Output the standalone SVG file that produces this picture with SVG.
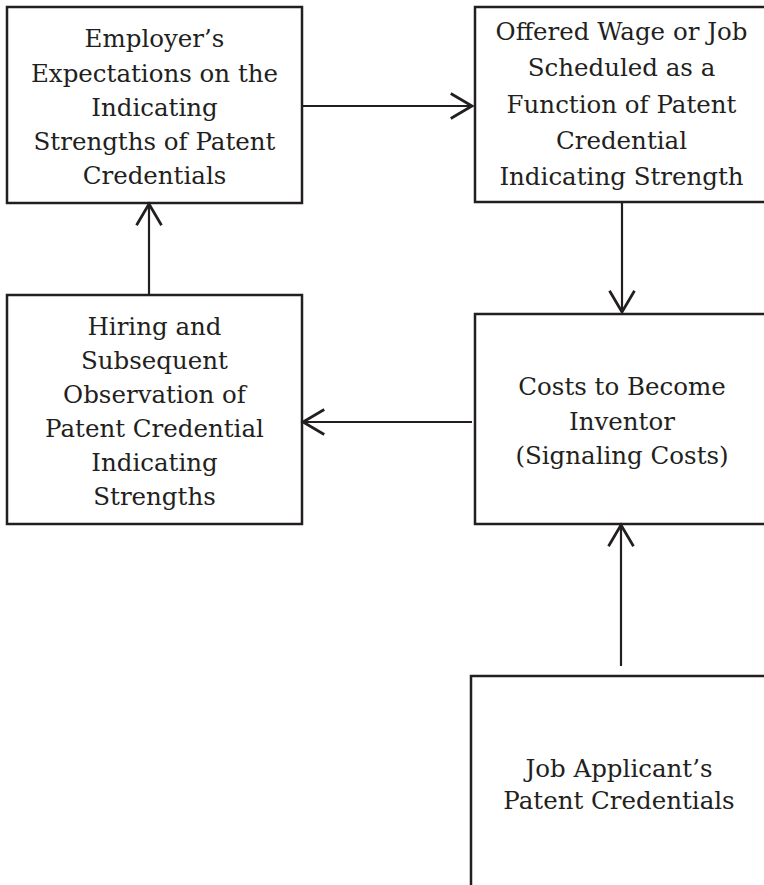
<svg xmlns="http://www.w3.org/2000/svg" width="764" height="885" viewBox="0 0 764 885">
<style>
.box{fill:#ffffff;stroke:#231f20;stroke-width:2.5}
.lbl{font-family:"DejaVu Serif","Liberation Serif",serif;font-size:24.5px;fill:#231f20;text-anchor:middle}
.conn{stroke:#231f20;stroke-width:2.2;fill:none;marker-end:url(#arr)}
</style>
<defs>
<marker id="arr" markerUnits="userSpaceOnUse" markerWidth="30" markerHeight="30" viewBox="-20 -12 22 24" refX="0" refY="0" orient="auto">
<path d="M-17,-10 L0,0 L-17,10" fill="none" stroke="#231f20" stroke-width="2.2"/>
</marker>
</defs>
<rect width="764" height="885" fill="#ffffff"/>
<g id="employer">
<rect class="box" x="7" y="7" width="295" height="196"/>
<text class="lbl" x="154.5" y="47">Employer’s</text>
<text class="lbl" x="154.5" y="81.5">Expectations on the</text>
<text class="lbl" x="154.5" y="116">Indicating</text>
<text class="lbl" x="154.5" y="150">Strengths of Patent</text>
<text class="lbl" x="154.5" y="184">Credentials</text>
</g>
<g id="offered">
<rect class="box" x="475" y="7" width="310" height="195"/>
<text class="lbl" x="621.5" y="40">Offered Wage or Job</text>
<text class="lbl" x="621.5" y="76">Scheduled as a</text>
<text class="lbl" x="621.5" y="112.5">Function of Patent</text>
<text class="lbl" x="621.5" y="148.5">Credential</text>
<text class="lbl" x="621.5" y="185">Indicating Strength</text>
</g>
<g id="hiring">
<rect class="box" x="7" y="295" width="295" height="229"/>
<text class="lbl" x="154.5" y="335">Hiring and</text>
<text class="lbl" x="154.5" y="369">Subsequent</text>
<text class="lbl" x="154.5" y="403">Observation of</text>
<text class="lbl" x="154.5" y="437">Patent Credential</text>
<text class="lbl" x="154.5" y="471">Indicating</text>
<text class="lbl" x="154.5" y="505">Strengths</text>
</g>
<g id="costs">
<rect class="box" x="475" y="314" width="310" height="210"/>
<text class="lbl" x="622" y="395">Costs to Become</text>
<text class="lbl" x="622" y="430">Inventor</text>
<text class="lbl" x="622" y="464">(Signaling Costs)</text>
</g>
<g id="applicant">
<rect class="box" x="471" y="676" width="320" height="230"/>
<text class="lbl" x="619" y="777">Job Applicant’s</text>
<text class="lbl" x="619" y="809">Patent Credentials</text>
</g>
<g id="connectors">
<line class="conn" x1="302" y1="106" x2="472" y2="106"/>
<line class="conn" x1="622" y1="202" x2="622" y2="312"/>
<line class="conn" x1="472" y1="422" x2="303" y2="422"/>
<line class="conn" x1="149" y1="295" x2="149" y2="204"/>
<line class="conn" x1="621" y1="666" x2="621" y2="525"/>
</g>
</svg>
